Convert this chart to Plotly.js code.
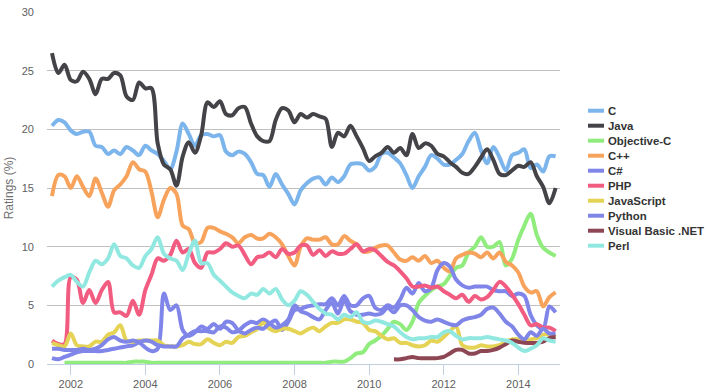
<!DOCTYPE html>
<html>
<head>
<meta charset="utf-8">
<script src="https://cdn.plot.ly/plotly-3.0.1.min.js"></script>
<style>html,body{margin:0;padding:0;background:#fff;}#chart{width:708px;height:392px;}</style>
</head>
<body>
<div id="chart"></div>
<script>
// Dates: every two months, Jul 2001 .. Jan 2015
const dates = [
  '2001-07-01','2001-09-01','2001-11-01',
  '2002-01-01','2002-03-01','2002-05-01','2002-07-01','2002-09-01','2002-11-01',
  '2003-01-01','2003-03-01','2003-05-01','2003-07-01','2003-09-01','2003-11-01',
  '2004-01-01','2004-03-01','2004-05-01','2004-07-01','2004-09-01','2004-11-01',
  '2005-01-01','2005-03-01','2005-05-01','2005-07-01','2005-09-01','2005-11-01',
  '2006-01-01','2006-03-01','2006-05-01','2006-07-01','2006-09-01','2006-11-01',
  '2007-01-01','2007-03-01','2007-05-01','2007-07-01','2007-09-01','2007-11-01',
  '2008-01-01','2008-03-01','2008-05-01','2008-07-01','2008-09-01','2008-11-01',
  '2009-01-01','2009-03-01','2009-05-01','2009-07-01','2009-09-01','2009-11-01',
  '2010-01-01','2010-03-01','2010-05-01','2010-07-01','2010-09-01','2010-11-01',
  '2011-01-01','2011-03-01','2011-05-01','2011-07-01','2011-09-01','2011-11-01',
  '2012-01-01','2012-03-01','2012-05-01','2012-07-01','2012-09-01','2012-11-01',
  '2013-01-01','2013-03-01','2013-05-01','2013-07-01','2013-09-01','2013-11-01',
  '2014-01-01','2014-03-01','2014-05-01','2014-07-01','2014-09-01','2014-11-01',
  '2015-01-01'
];

const seriesNames = ['C','Java','Objective-C','C++','C#','PHP','JavaScript','Python','Visual Basic .NET','Perl'];
const seriesColors = ['#7cb5ec','#434348','#90ed7d','#f7a35c','#8085e9','#f15c80','#e4d354','#8085e8','#8d4653','#91e8e1'];

const cValues = [
  20.3,20.8,20.6,19.9,19.6,19.8,19.8,18.6,18.5,17.9,18.2,17.9,
  18.5,18.2,17.8,18.6,18.2,17.9,17.3,16.6,18.1,20.5,19.6,18.6,
  19.5,19.6,19.4,19.5,18.1,17.8,18.1,17.9,17.2,16.2,16.1,15.1,
  16.2,15.3,14.5,13.6,14.8,15.4,15.8,15.9,15.3,15.9,15.5,16.0,
  17.0,17.1,17.0,16.5,16.8,17.9,18.0,17.6,17.1,16.1,15.0,16.0,
  16.8,17.8,17.5,17.0,17.0,17.4,17.9,19.0,19.7,18.2,17.1,18.5,
  17.6,16.5,17.8,18.0,18.3,16.7,17.0,16.4,17.7,17.7
];
const javaValues = [
  26.5,24.8,25.5,24.2,24.1,24.9,24.3,23.0,24.3,24.3,24.8,24.6,
  22.8,22.5,24.0,23.5,23.5,18.8,17.0,16.6,15.2,17.7,18.9,18.0,
  19.5,22.3,21.9,22.4,21.3,21.2,21.8,21.9,20.5,19.4,19.0,19.0,
  20.8,21.8,21.6,20.6,21.3,21.0,21.3,21.1,20.9,18.5,19.7,19.4,
  20.3,19.4,18.4,17.3,17.7,18.0,18.5,18.0,18.4,17.8,19.6,18.4,
  18.8,18.6,17.9,17.7,17.2,16.8,16.3,16.2,16.8,17.6,18.3,17.4,
  16.2,16.1,16.5,16.9,16.8,17.2,16.0,15.1,13.7,15.0
];
// Objective-C starts Nov 2001
const objcValues = [
  0.1,0.1,0.1,0.1,0.1,0.1,0.1,0.1,0.1,0.1,0.1,0.2,
  0.2,0.2,0.1,0.1,0.1,0.1,0.1,0.1,0.1,0.1,0.1,0.1,
  0.1,0.1,0.1,0.1,0.1,0.1,0.1,0.1,0.1,0.1,0.1,0.1,
  0.1,0.1,0.1,0.1,0.1,0.1,0.1,0.2,0.2,0.2,0.5,0.9,
  1.0,1.7,2.0,2.4,3.0,3.6,3.4,2.9,3.6,5.2,5.8,6.3,
  6.6,6.8,7.5,8.2,8.4,9.5,10.0,10.8,10.0,10.0,10.4,8.4,
  9.0,10.6,11.8,12.8,11.0,9.9,9.5,9.2
];
const cppValues = [
  14.3,16.1,16.0,15.0,16.0,15.1,14.3,15.8,14.6,13.4,14.8,15.3,
  16.0,17.2,16.6,16.4,14.7,12.5,14.0,15.0,14.5,11.8,11.5,10.3,
  10.4,11.6,11.6,11.3,11.1,10.8,10.3,10.8,11.0,10.7,10.7,11.1,
  10.8,10.2,9.2,8.4,10.0,10.7,10.6,10.6,10.8,10.2,10.2,10.9,
  10.5,10.2,9.6,9.6,9.9,10.1,10.1,9.5,8.9,8.8,9.1,8.8,
  9.2,8.6,8.8,8.2,7.9,9.0,9.3,9.5,9.4,9.1,9.5,9.0,
  9.5,8.7,8.4,7.8,6.6,6.1,6.2,4.9,5.7,6.1
];
const csharpValues = [
  0.5,0.4,0.6,0.8,1.0,1.1,1.1,1.1,1.1,1.2,1.3,1.4,
  1.5,1.6,1.8,1.4,1.1,1.3,6.0,4.6,5.0,2.9,2.4,2.7,
  3.2,3.0,3.4,3.0,3.6,3.5,2.9,3.3,3.6,3.5,3.8,3.5,
  3.7,2.9,3.6,4.6,4.7,4.9,5.0,5.1,5.1,5.6,5.0,5.8,
  5.0,5.0,5.6,5.8,4.8,4.6,5.0,4.8,5.5,6.5,6.0,6.9,
  6.2,6.5,8.0,8.6,8.3,7.2,6.7,6.5,6.6,6.6,6.6,6.3,
  6.2,6.2,5.8,6.0,5.8,4.2,3.3,3.0,4.9,4.4
];
const phpValues = [
  2.0,1.7,1.7,7.4,7.2,5.2,6.3,5.2,6.3,7.0,4.4,4.4,
  4.1,5.4,4.2,6.3,7.6,9.0,8.8,9.3,10.5,9.5,9.8,8.6,
  8.2,9.5,9.5,9.8,10.3,10.0,10.1,9.3,8.5,9.1,9.2,9.5,
  9.1,9.8,9.4,9.5,10.1,10.1,9.3,9.7,9.2,9.6,9.4,9.4,
  9.8,10.2,9.6,9.8,9.7,9.2,8.7,8.4,7.9,7.3,6.6,6.6,
  6.7,6.5,6.6,6.2,5.9,5.6,5.9,5.3,5.8,5.5,5.7,6.3,
  7.0,6.6,5.9,5.1,4.2,3.3,3.4,3.1,3.1,2.8
];
const jsValues = [
  1.8,1.6,1.5,2.6,1.6,1.5,1.5,1.9,1.9,2.5,2.7,3.3,
  2.0,1.9,2.0,2.0,2.0,2.0,1.6,1.5,1.5,1.6,1.9,1.7,
  1.7,2.1,1.8,1.6,1.9,1.8,2.3,2.4,2.7,3.0,3.5,3.0,
  2.8,3.0,3.0,2.8,2.6,2.9,3.1,2.8,3.2,3.5,3.5,3.8,
  3.8,3.6,3.5,2.9,2.8,2.4,2.1,2.2,1.8,1.8,1.6,1.5,
  1.6,2.0,1.9,2.3,2.8,3.2,1.6,1.4,1.4,1.6,1.5,1.5,
  1.6,1.9,2.1,2.1,1.9,2.1,2.2,2.5,2.5,2.3
];
const pythonValues = [
  1.3,1.3,1.2,1.2,1.2,1.3,1.2,1.3,1.6,2.1,2.3,2.0,
  1.9,2.0,1.9,2.0,1.9,1.6,1.5,1.5,1.5,2.2,2.5,2.8,
  2.8,2.8,2.7,3.2,3.1,2.7,2.8,2.6,2.9,3.1,3.0,3.4,
  3.1,3.3,3.8,5.0,4.5,4.3,4.0,3.8,4.6,5.2,4.3,5.4,
  4.5,4.2,4.2,4.3,4.2,4.3,4.8,4.4,5.0,5.0,4.6,4.0,
  3.7,3.6,3.8,3.6,3.4,3.3,3.7,3.9,4.0,4.2,4.7,4.8,
  4.3,3.6,3.2,2.5,2.1,2.7,2.4,3.0,2.6,2.6
];
// Visual Basic .NET starts Sep 2010
const vbnetValues = [
  0.4,0.4,0.5,0.6,0.5,0.5,0.5,0.5,0.6,0.9,1.2,1.2,
  0.9,0.9,1.1,1.1,1.2,1.4,1.7,2.0,1.9,1.8,1.8,1.8,
  1.9,2.2,2.3
];
const perlValues = [
  6.6,7.1,7.4,7.6,7.0,6.6,7.8,8.8,8.5,9.0,10.2,9.2,
  9.0,8.4,8.2,9.2,9.8,10.8,9.4,9.0,8.8,8.0,9.4,10.5,
  8.6,8.6,7.6,7.1,6.6,6.1,5.8,5.6,6.0,5.9,6.4,6.0,
  6.4,5.5,5.0,5.4,6.2,5.9,5.3,4.7,4.3,4.2,3.8,4.2,
  4.0,4.4,3.6,3.5,3.7,3.6,3.4,3.2,2.7,2.3,2.1,2.2,
  2.2,2.3,2.3,2.7,2.8,2.4,2.1,2.2,2.2,2.2,2.3,2.2,
  2.1,2.0,1.8,1.4,1.1,1.3,1.6,2.2,2.0,1.9
];

const yTickVals = [0,5,10,15,20,25,30];
const xTickVals = ['2002-01-01','2004-01-01','2006-01-01','2008-01-01','2010-01-01','2012-01-01','2014-01-01'];
const xTickText = ['2002','2004','2006','2008','2010','2012','2014'];

const allValues = [cValues, javaValues, objcValues, cppValues, csharpValues, phpValues, jsValues, pythonValues, vbnetValues, perlValues];

const traces = allValues.map(function (vals, i) {
  const xs = dates.slice(dates.length - vals.length);
  return {
    type: 'scatter',
    mode: 'lines',
    name: seriesNames[i],
    x: xs,
    y: vals,
    line: { color: seriesColors[i], width: 4, shape: 'spline', smoothing: 0.9 },
    showlegend: false,
    hoverinfo: 'skip'
  };
});

// Layout geometry (pixels)
const W = 708, H = 392;
const M = { l: 47, r: 148, t: 12, b: 28 };
const pw = W - M.l - M.r, ph = H - M.t - M.b;
function px2x(px) { return (px - M.l) / pw; }
function px2y(py) { return (H - M.b - py) / ph; }

const shapes = [];
const annotations = [];
seriesNames.forEach(function (name, i) {
  const yy = 110.7 + 15 * i;
  shapes.push({
    type: 'line', xref: 'paper', yref: 'paper',
    x0: px2x(588), x1: px2x(604), y0: px2y(yy), y1: px2y(yy),
    line: { color: seriesColors[i], width: 4 }
  });
  annotations.push({
    xref: 'paper', yref: 'paper', x: px2x(607), y: px2y(yy),
    xanchor: 'left', yanchor: 'middle', showarrow: false,
    borderpad: 0,
    text: '<b>' + name + '</b>',
    font: { family: 'Liberation Sans, Arial, sans-serif', size: 11.4, color: '#333333' }
  });
});

const layout = {
  width: W, height: H,
  margin: M,
  paper_bgcolor: '#ffffff', plot_bgcolor: '#ffffff',
  showlegend: false,
  font: { family: 'Liberation Sans, Arial, sans-serif' },
  xaxis: {
    type: 'date',
    range: ['2001-05-13', '2015-02-13'],
    tickvals: xTickVals, ticktext: xTickText,
    ticks: 'outside', ticklen: 10, tickwidth: 1, tickcolor: '#C0D0E0',
    showline: true, linecolor: '#C0D0E0', linewidth: 1,
    showgrid: false, zeroline: false,
    tickfont: { family: 'Liberation Sans, Arial, sans-serif', size: 11, color: '#606060' }
  },
  yaxis: {
    range: [0, 30],
    tickvals: yTickVals,
    showgrid: true, gridcolor: '#C0C0C0', gridwidth: 1,
    zeroline: false, showline: false, ticks: '',
    ticklabelstandoff: 12,
    tickfont: { family: 'Liberation Sans, Arial, sans-serif', size: 11, color: '#606060' },
    title: { text: 'Ratings (%)', standoff: 5, font: { family: 'Liberation Sans, Arial, sans-serif', size: 12, color: '#707070' } }
  },
  shapes: shapes,
  annotations: annotations
};

Plotly.newPlot('chart', traces, layout, { staticPlot: true, displayModeBar: false });
</script>
</body>
</html>
